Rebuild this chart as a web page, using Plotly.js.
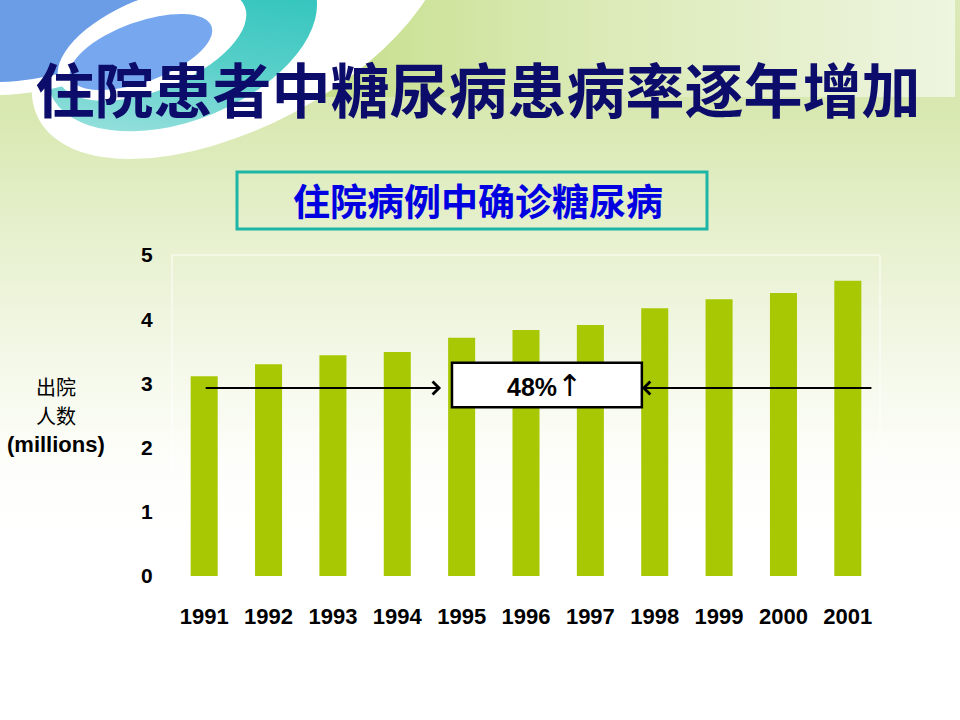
<!DOCTYPE html>
<html>
<head>
<meta charset="utf-8">
<script src="https://cdn.plot.ly/plotly-3.0.1.min.js"></script>
<style>html,body{margin:0;padding:0;background:#fff;}#chart{width:960px;height:720px;}</style>
</head>
<body>
<div id="chart"></div>
<script>
// ---- data ----
const years = ['1991','1992','1993','1994','1995','1996','1997','1998','1999','2000','2001'];
const discharges = [3.11, 3.30, 3.44, 3.49, 3.71, 3.83, 3.91, 4.17, 4.31, 4.41, 4.60];
const yTicks = [0, 1, 2, 3, 4, 5];
const mainTitle = '住院患者中糖尿病患病率逐年增加';
const subTitle = '住院病例中确诊糖尿病';
const yTitleLines = ['出院', '人数', '(millions)'];
const changeLabel = '48%';

// ---- layout geometry ----
const W = 960, H = 720;
const M = {l: 172, r: 80, t: 255, b: 144};
const PW = W - M.l - M.r, PH = H - M.t - M.b;
const px = x => (x - M.l) / PW;
const py = y => (H - M.b - y) / PH;

const latin = '"Liberation Sans", Arial, "Noto Sans CJK SC", sans-serif';
const cjk = '"Noto Sans CJK SC", "Liberation Sans", sans-serif';

// background decoration (slide theme)
const bgSvg = `<svg xmlns="http://www.w3.org/2000/svg" width="960" height="720" viewBox="0 0 960 720">
<defs>
<linearGradient id="bg" x1="0" y1="0" x2="0" y2="1">
<stop offset="0" stop-color="#dbe9b8"/><stop offset="0.15" stop-color="#d8e8b0"/>
<stop offset="0.32" stop-color="#e6f0cd"/><stop offset="0.5" stop-color="#f4f8e8"/>
<stop offset="0.64" stop-color="#fdfefa"/><stop offset="0.75" stop-color="#ffffff"/><stop offset="1" stop-color="#ffffff"/>
</linearGradient>
<linearGradient id="top" x1="0" y1="0" x2="1" y2="0">
<stop offset="0" stop-color="#c4de88"/><stop offset="0.4" stop-color="#d9e9b2"/><stop offset="1" stop-color="#eef5e0"/>
</linearGradient>
<linearGradient id="teal" x1="1" y1="0" x2="0" y2="1">
<stop offset="0" stop-color="#10bcb4"/><stop offset="0.55" stop-color="#55cec8"/><stop offset="1" stop-color="#b0e7e5"/>
</linearGradient>
</defs>
<rect x="0" y="0" width="960" height="720" fill="url(#bg)"/>
<rect x="300" y="0" width="655" height="97" fill="url(#top)"/>
<ellipse cx="240" cy="12" rx="228" ry="114" transform="rotate(-28 240 12)" fill="#ffffff"/>
<ellipse cx="182" cy="40" rx="142" ry="80" transform="rotate(-22 182 40)" fill="url(#teal)"/>
<ellipse cx="30" cy="-15" rx="178" ry="106" transform="rotate(-12 30 -15)" fill="#ffffff"/>
<ellipse cx="30" cy="-15" rx="165" ry="93" transform="rotate(-12 30 -15)" fill="#6b9ce6"/>
<ellipse cx="152" cy="44" rx="100" ry="46" transform="rotate(-22 152 44)" fill="#ffffff"/>
<ellipse cx="141" cy="52" rx="75" ry="30" transform="rotate(-20 141 52)" fill="#77a8ef"/>
</svg>`;
const bgUri = 'data:image/svg+xml;charset=utf-8,' + encodeURIComponent(bgSvg);

const trace = {
  type: 'bar',
  x: years,
  y: discharges,
  width: 0.42,
  marker: {color: '#a9c804', line: {width: 0}},
  hoverinfo: 'x+y'
};

// arrow geometry in data units
const arrowY = 2.93;
const leftArrow = {tail: 0, head: 3.68};
const rightArrow = {tail: 10.39, head: 6.80};
const boxX = [3.85, 6.80], boxY = [2.63, 3.32];

const layout = {
  width: W, height: H,
  margin: M,
  paper_bgcolor: 'rgba(0,0,0,0)',
  plot_bgcolor: 'rgba(255,255,255,0.3)',
  showlegend: false,
  title: {
    text: mainTitle,
    x: 0.498, xref: 'container', xanchor: 'center',
    y: 1 - 92 / H, yref: 'container', yanchor: 'middle',
    font: {family: cjk, size: 59, color: '#0c0c6a', weight: 'bold'}
  },
  xaxis: {
    type: 'category',
    range: [-0.5, years.length - 0.5],
    showgrid: false, zeroline: false, showline: false,
    ticks: 'outside', ticklen: 21, tickcolor: 'rgba(0,0,0,0)',
    tickfont: {family: latin, size: 22, color: '#000', weight: 'bold'},
    fixedrange: true
  },
  yaxis: {
    range: [0, 5],
    tickvals: yTicks,
    showgrid: false, zeroline: false, showline: false,
    ticks: 'outside', ticklen: 14, tickcolor: 'rgba(0,0,0,0)',
    tickfont: {family: latin, size: 21, color: '#000', weight: 'bold'},
    fixedrange: true
  },
  images: [{
    source: bgUri, xref: 'paper', yref: 'paper',
    x: px(0), y: py(0), sizex: W / PW, sizey: H / PH,
    xanchor: 'left', yanchor: 'top', sizing: 'stretch', layer: 'below'
  }],
  shapes: [
    {type: 'rect', xref: 'paper', yref: 'paper', x0: 0, x1: 1, y0: 0, y1: 1,
     line: {color: 'rgba(255,255,255,0.9)', width: 1}, fillcolor: 'rgba(0,0,0,0)', layer: 'below'},
    {type: 'rect', xref: 'paper', yref: 'paper', x0: px(237), x1: px(707), y0: py(229), y1: py(172),
     line: {color: '#1cb5a6', width: 3}, fillcolor: 'rgba(0,0,0,0)'},
    {type: 'rect', xref: 'x', yref: 'y', x0: boxX[0], x1: boxX[1], y0: boxY[0], y1: boxY[1],
     line: {color: '#000', width: 2.5}, fillcolor: '#ffffff', layer: 'above'}
  ],
  annotations: [
    {text: subTitle, xref: 'paper', yref: 'paper', x: px(478), y: py(200),
     xanchor: 'center', yanchor: 'middle', showarrow: false,
     font: {family: cjk, size: 37, color: '#0000e0', weight: 'bold'}},
    {text: '<span style="font-size:20px">' + yTitleLines[0] + '</span><br><span style="font-size:20px">' + yTitleLines[1] + '</span><br><b>' + yTitleLines[2] + '</b>',
     xref: 'paper', yref: 'paper', x: px(56), y: py(417),
     xanchor: 'center', yanchor: 'middle', showarrow: false, align: 'center',
     font: {family: latin, size: 22, color: '#000'}},
    {text: '<b>' + changeLabel + '</b><span style="font-size:30px;font-family:DejaVu Sans">↑</span>', xref: 'x', yref: 'y',
     x: (boxX[0] + boxX[1]) / 2 - 0.03, y: 2.97,
     xanchor: 'center', yanchor: 'middle', showarrow: false,
     font: {family: latin, size: 25, color: '#000'}},
    {text: '', xref: 'x', yref: 'y', x: leftArrow.head, y: arrowY,
     axref: 'x', ayref: 'y', ax: leftArrow.tail, ay: arrowY,
     showarrow: true, arrowhead: 4, arrowsize: 1.25, arrowwidth: 2, arrowcolor: '#000', standoff: 0},
    {text: '', xref: 'x', yref: 'y', x: rightArrow.head, y: arrowY,
     axref: 'x', ayref: 'y', ax: rightArrow.tail, ay: arrowY,
     showarrow: true, arrowhead: 4, arrowsize: 1.25, arrowwidth: 2, arrowcolor: '#000', standoff: 0}
  ]
};

Plotly.newPlot('chart', [trace], layout, {displayModeBar: false, staticPlot: true});
</script>
</body>
</html>
